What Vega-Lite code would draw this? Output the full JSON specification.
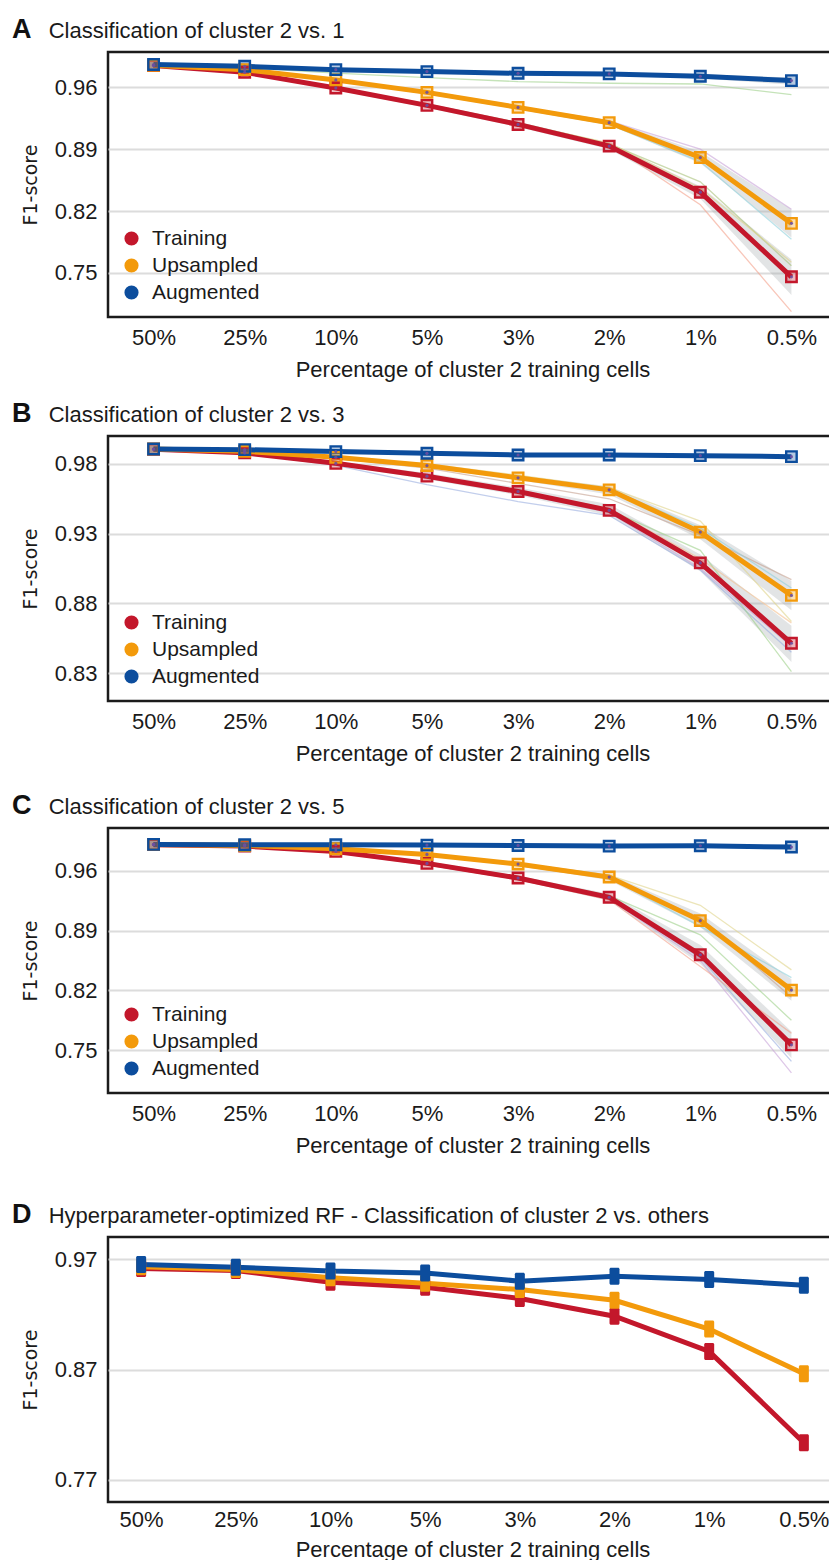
{
  "$schema": "https://vega.github.io/schema/vega-lite/v6.json",
  "background": "white",
  "padding": {"left": 10, "top": 14, "right": 0, "bottom": 0},
  "config": {
    "font": "Liberation Sans",
    "view": {"stroke": "#1b1b1b", "strokeWidth": 2.5},
    "axis": {"gridColor": "#dcdcdc", "gridWidth": 2, "domain": false, "ticks": false, "labelFontSize": 22, "labelColor": "#1a1a1a", "labelFont": "Liberation Sans", "titleFontSize": 22, "titleColor": "#1a1a1a", "titleFontWeight": "normal", "titleFont": "Liberation Sans"},
    "axisX": {"labelPadding": 10, "titlePadding": 11, "labelAngle": 0},
    "axisY": {"labelPadding": 11, "titlePadding": 14, "titleFont": "DejaVu Sans", "titleFontSize": 19},
    "legend": {"labelFont": "Liberation Sans", "labelColor": "#1a1a1a", "padding": 0},
    "title": {"anchor": "start", "frame": "group", "dx": -96, "fontSize": 27, "fontWeight": "bold", "font": "Liberation Sans", "color": "#111111", "subtitleFont": "Liberation Sans", "subtitleFontSize": 22, "subtitleColor": "#1a1a1a", "subtitlePadding": -23, "offset": 8}
  },
  "datasets": {
    "A_main": [
      {"series": "Training", "pct": "50%", "v": 0.9846}, {"series": "Training", "pct": "25%", "v": 0.977}, {"series": "Training", "pct": "10%", "v": 0.9593}, {"series": "Training", "pct": "5%", "v": 0.9396}, {"series": "Training", "pct": "3%", "v": 0.918}, {"series": "Training", "pct": "2%", "v": 0.8935}, {"series": "Training", "pct": "1%", "v": 0.8413}, {"series": "Training", "pct": "0.5%", "v": 0.7455},
      {"series": "Upsampled", "pct": "50%", "v": 0.985}, {"series": "Upsampled", "pct": "25%", "v": 0.98}, {"series": "Upsampled", "pct": "10%", "v": 0.9684}, {"series": "Upsampled", "pct": "5%", "v": 0.9543}, {"series": "Upsampled", "pct": "3%", "v": 0.9373}, {"series": "Upsampled", "pct": "2%", "v": 0.92}, {"series": "Upsampled", "pct": "1%", "v": 0.8806}, {"series": "Upsampled", "pct": "0.5%", "v": 0.806},
      {"series": "Augmented", "pct": "50%", "v": 0.9858}, {"series": "Augmented", "pct": "25%", "v": 0.9838}, {"series": "Augmented", "pct": "10%", "v": 0.98}, {"series": "Augmented", "pct": "5%", "v": 0.9778}, {"series": "Augmented", "pct": "3%", "v": 0.9759}, {"series": "Augmented", "pct": "2%", "v": 0.9752}, {"series": "Augmented", "pct": "1%", "v": 0.9725}, {"series": "Augmented", "pct": "0.5%", "v": 0.9676}
    ],
    "A_band": [
      {"series": "Training", "pct": "50%", "lo": 0.9838, "hi": 0.9854}, {"series": "Training", "pct": "25%", "lo": 0.9755, "hi": 0.9785}, {"series": "Training", "pct": "10%", "lo": 0.957, "hi": 0.9615}, {"series": "Training", "pct": "5%", "lo": 0.937, "hi": 0.942}, {"series": "Training", "pct": "3%", "lo": 0.915, "hi": 0.921}, {"series": "Training", "pct": "2%", "lo": 0.89, "hi": 0.897}, {"series": "Training", "pct": "1%", "lo": 0.834, "hi": 0.848}, {"series": "Training", "pct": "0.5%", "lo": 0.725, "hi": 0.765},
      {"series": "Upsampled", "pct": "50%", "lo": 0.9842, "hi": 0.9858}, {"series": "Upsampled", "pct": "25%", "lo": 0.979, "hi": 0.981}, {"series": "Upsampled", "pct": "10%", "lo": 0.967, "hi": 0.97}, {"series": "Upsampled", "pct": "5%", "lo": 0.952, "hi": 0.9565}, {"series": "Upsampled", "pct": "3%", "lo": 0.935, "hi": 0.9395}, {"series": "Upsampled", "pct": "2%", "lo": 0.9175, "hi": 0.9225}, {"series": "Upsampled", "pct": "1%", "lo": 0.874, "hi": 0.887}, {"series": "Upsampled", "pct": "0.5%", "lo": 0.79, "hi": 0.822},
      {"series": "Augmented", "pct": "50%", "lo": 0.985, "hi": 0.9866}, {"series": "Augmented", "pct": "25%", "lo": 0.983, "hi": 0.9846}, {"series": "Augmented", "pct": "10%", "lo": 0.979, "hi": 0.981}, {"series": "Augmented", "pct": "5%", "lo": 0.9765, "hi": 0.979}, {"series": "Augmented", "pct": "3%", "lo": 0.974, "hi": 0.9775}, {"series": "Augmented", "pct": "2%", "lo": 0.973, "hi": 0.977}, {"series": "Augmented", "pct": "1%", "lo": 0.97, "hi": 0.975}, {"series": "Augmented", "pct": "0.5%", "lo": 0.963, "hi": 0.971}
    ],
    "A_runs": [
      {"run": "g1", "pct": "50%", "v": 0.985}, {"run": "g1", "pct": "25%", "v": 0.982}, {"run": "g1", "pct": "10%", "v": 0.976}, {"run": "g1", "pct": "5%", "v": 0.971}, {"run": "g1", "pct": "3%", "v": 0.9665}, {"run": "g1", "pct": "2%", "v": 0.9646}, {"run": "g1", "pct": "1%", "v": 0.9638}, {"run": "g1", "pct": "0.5%", "v": 0.9517},
      {"run": "s1", "pct": "50%", "v": 0.985}, {"run": "s1", "pct": "25%", "v": 0.977}, {"run": "s1", "pct": "10%", "v": 0.959}, {"run": "s1", "pct": "5%", "v": 0.939}, {"run": "s1", "pct": "3%", "v": 0.918}, {"run": "s1", "pct": "2%", "v": 0.896}, {"run": "s1", "pct": "1%", "v": 0.827}, {"run": "s1", "pct": "0.5%", "v": 0.706},
      {"run": "c1", "pct": "50%", "v": 0.985}, {"run": "c1", "pct": "25%", "v": 0.98}, {"run": "c1", "pct": "10%", "v": 0.968}, {"run": "c1", "pct": "5%", "v": 0.953}, {"run": "c1", "pct": "3%", "v": 0.936}, {"run": "c1", "pct": "2%", "v": 0.918}, {"run": "c1", "pct": "1%", "v": 0.876}, {"run": "c1", "pct": "0.5%", "v": 0.788},
      {"run": "g2", "pct": "50%", "v": 0.985}, {"run": "g2", "pct": "25%", "v": 0.977}, {"run": "g2", "pct": "10%", "v": 0.96}, {"run": "g2", "pct": "5%", "v": 0.941}, {"run": "g2", "pct": "3%", "v": 0.92}, {"run": "g2", "pct": "2%", "v": 0.896}, {"run": "g2", "pct": "1%", "v": 0.853}, {"run": "g2", "pct": "0.5%", "v": 0.758},
      {"run": "p1", "pct": "50%", "v": 0.985}, {"run": "p1", "pct": "25%", "v": 0.98}, {"run": "p1", "pct": "10%", "v": 0.969}, {"run": "p1", "pct": "5%", "v": 0.955}, {"run": "p1", "pct": "3%", "v": 0.938}, {"run": "p1", "pct": "2%", "v": 0.922}, {"run": "p1", "pct": "1%", "v": 0.89}, {"run": "p1", "pct": "0.5%", "v": 0.822},
      {"run": "y1", "pct": "50%", "v": 0.985}, {"run": "y1", "pct": "25%", "v": 0.977}, {"run": "y1", "pct": "10%", "v": 0.96}, {"run": "y1", "pct": "5%", "v": 0.94}, {"run": "y1", "pct": "3%", "v": 0.919}, {"run": "y1", "pct": "2%", "v": 0.897}, {"run": "y1", "pct": "1%", "v": 0.846}, {"run": "y1", "pct": "0.5%", "v": 0.762}
    ],
    "B_main": [
      {"series": "Training", "pct": "50%", "v": 0.9905}, {"series": "Training", "pct": "25%", "v": 0.9879}, {"series": "Training", "pct": "10%", "v": 0.9804}, {"series": "Training", "pct": "5%", "v": 0.9712}, {"series": "Training", "pct": "3%", "v": 0.9602}, {"series": "Training", "pct": "2%", "v": 0.9467}, {"series": "Training", "pct": "1%", "v": 0.909}, {"series": "Training", "pct": "0.5%", "v": 0.8514},
      {"series": "Upsampled", "pct": "50%", "v": 0.9907}, {"series": "Upsampled", "pct": "25%", "v": 0.989}, {"series": "Upsampled", "pct": "10%", "v": 0.9847}, {"series": "Upsampled", "pct": "5%", "v": 0.9788}, {"series": "Upsampled", "pct": "3%", "v": 0.97}, {"series": "Upsampled", "pct": "2%", "v": 0.9614}, {"series": "Upsampled", "pct": "1%", "v": 0.9311}, {"series": "Upsampled", "pct": "0.5%", "v": 0.8857},
      {"series": "Augmented", "pct": "50%", "v": 0.9907}, {"series": "Augmented", "pct": "25%", "v": 0.9902}, {"series": "Augmented", "pct": "10%", "v": 0.9888}, {"series": "Augmented", "pct": "5%", "v": 0.9876}, {"series": "Augmented", "pct": "3%", "v": 0.9864}, {"series": "Augmented", "pct": "2%", "v": 0.9864}, {"series": "Augmented", "pct": "1%", "v": 0.9859}, {"series": "Augmented", "pct": "0.5%", "v": 0.9852}
    ],
    "B_band": [
      {"series": "Training", "pct": "50%", "lo": 0.9898, "hi": 0.9912}, {"series": "Training", "pct": "25%", "lo": 0.987, "hi": 0.9888}, {"series": "Training", "pct": "10%", "lo": 0.979, "hi": 0.9818}, {"series": "Training", "pct": "5%", "lo": 0.969, "hi": 0.9734}, {"series": "Training", "pct": "3%", "lo": 0.9575, "hi": 0.963}, {"series": "Training", "pct": "2%", "lo": 0.943, "hi": 0.951}, {"series": "Training", "pct": "1%", "lo": 0.903, "hi": 0.915}, {"series": "Training", "pct": "0.5%", "lo": 0.838, "hi": 0.864},
      {"series": "Upsampled", "pct": "50%", "lo": 0.99, "hi": 0.9914}, {"series": "Upsampled", "pct": "25%", "lo": 0.988, "hi": 0.99}, {"series": "Upsampled", "pct": "10%", "lo": 0.9835, "hi": 0.986}, {"series": "Upsampled", "pct": "5%", "lo": 0.9775, "hi": 0.98}, {"series": "Upsampled", "pct": "3%", "lo": 0.9685, "hi": 0.9715}, {"series": "Upsampled", "pct": "2%", "lo": 0.958, "hi": 0.964}, {"series": "Upsampled", "pct": "1%", "lo": 0.926, "hi": 0.936}, {"series": "Upsampled", "pct": "0.5%", "lo": 0.875, "hi": 0.896},
      {"series": "Augmented", "pct": "50%", "lo": 0.99, "hi": 0.9914}, {"series": "Augmented", "pct": "25%", "lo": 0.9895, "hi": 0.991}, {"series": "Augmented", "pct": "10%", "lo": 0.988, "hi": 0.9896}, {"series": "Augmented", "pct": "5%", "lo": 0.987, "hi": 0.9884}, {"series": "Augmented", "pct": "3%", "lo": 0.9855, "hi": 0.9873}, {"series": "Augmented", "pct": "2%", "lo": 0.9855, "hi": 0.9873}, {"series": "Augmented", "pct": "1%", "lo": 0.985, "hi": 0.987}, {"series": "Augmented", "pct": "0.5%", "lo": 0.984, "hi": 0.9864}
    ],
    "B_runs": [
      {"run": "b1", "pct": "50%", "v": 0.99}, {"run": "b1", "pct": "25%", "v": 0.9875}, {"run": "b1", "pct": "10%", "v": 0.979}, {"run": "b1", "pct": "5%", "v": 0.9652}, {"run": "b1", "pct": "3%", "v": 0.953}, {"run": "b1", "pct": "2%", "v": 0.943}, {"run": "b1", "pct": "1%", "v": 0.904}, {"run": "b1", "pct": "0.5%", "v": 0.845},
      {"run": "g1", "pct": "50%", "v": 0.99}, {"run": "g1", "pct": "25%", "v": 0.988}, {"run": "g1", "pct": "10%", "v": 0.981}, {"run": "g1", "pct": "5%", "v": 0.972}, {"run": "g1", "pct": "3%", "v": 0.961}, {"run": "g1", "pct": "2%", "v": 0.947}, {"run": "g1", "pct": "1%", "v": 0.918}, {"run": "g1", "pct": "0.5%", "v": 0.831},
      {"run": "y1", "pct": "50%", "v": 0.991}, {"run": "y1", "pct": "25%", "v": 0.989}, {"run": "y1", "pct": "10%", "v": 0.985}, {"run": "y1", "pct": "5%", "v": 0.98}, {"run": "y1", "pct": "3%", "v": 0.972}, {"run": "y1", "pct": "2%", "v": 0.963}, {"run": "y1", "pct": "1%", "v": 0.939}, {"run": "y1", "pct": "0.5%", "v": 0.867},
      {"run": "br", "pct": "50%", "v": 0.991}, {"run": "br", "pct": "25%", "v": 0.989}, {"run": "br", "pct": "10%", "v": 0.984}, {"run": "br", "pct": "5%", "v": 0.977}, {"run": "br", "pct": "3%", "v": 0.966}, {"run": "br", "pct": "2%", "v": 0.955}, {"run": "br", "pct": "1%", "v": 0.929}, {"run": "br", "pct": "0.5%", "v": 0.897},
      {"run": "c1", "pct": "50%", "v": 0.991}, {"run": "c1", "pct": "25%", "v": 0.989}, {"run": "c1", "pct": "10%", "v": 0.985}, {"run": "c1", "pct": "5%", "v": 0.979}, {"run": "c1", "pct": "3%", "v": 0.97}, {"run": "c1", "pct": "2%", "v": 0.962}, {"run": "c1", "pct": "1%", "v": 0.934}, {"run": "c1", "pct": "0.5%", "v": 0.891},
      {"run": "p1", "pct": "50%", "v": 0.99}, {"run": "p1", "pct": "25%", "v": 0.988}, {"run": "p1", "pct": "10%", "v": 0.98}, {"run": "p1", "pct": "5%", "v": 0.97}, {"run": "p1", "pct": "3%", "v": 0.959}, {"run": "p1", "pct": "2%", "v": 0.945}, {"run": "p1", "pct": "1%", "v": 0.905}, {"run": "p1", "pct": "0.5%", "v": 0.849},
      {"run": "o1", "pct": "50%", "v": 0.99}, {"run": "o1", "pct": "25%", "v": 0.988}, {"run": "o1", "pct": "10%", "v": 0.98}, {"run": "o1", "pct": "5%", "v": 0.971}, {"run": "o1", "pct": "3%", "v": 0.961}, {"run": "o1", "pct": "2%", "v": 0.948}, {"run": "o1", "pct": "1%", "v": 0.912}, {"run": "o1", "pct": "0.5%", "v": 0.866}
    ],
    "C_main": [
      {"series": "Training", "pct": "50%", "v": 0.9905}, {"series": "Training", "pct": "25%", "v": 0.9888}, {"series": "Training", "pct": "10%", "v": 0.9826}, {"series": "Training", "pct": "5%", "v": 0.9686}, {"series": "Training", "pct": "3%", "v": 0.9515}, {"series": "Training", "pct": "2%", "v": 0.929}, {"series": "Training", "pct": "1%", "v": 0.8617}, {"series": "Training", "pct": "0.5%", "v": 0.7563},
      {"series": "Upsampled", "pct": "50%", "v": 0.9908}, {"series": "Upsampled", "pct": "25%", "v": 0.9896}, {"series": "Upsampled", "pct": "10%", "v": 0.9857}, {"series": "Upsampled", "pct": "5%", "v": 0.9791}, {"series": "Upsampled", "pct": "3%", "v": 0.9678}, {"series": "Upsampled", "pct": "2%", "v": 0.9526}, {"series": "Upsampled", "pct": "1%", "v": 0.9017}, {"series": "Upsampled", "pct": "0.5%", "v": 0.8204},
      {"series": "Augmented", "pct": "50%", "v": 0.9908}, {"series": "Augmented", "pct": "25%", "v": 0.9904}, {"series": "Augmented", "pct": "10%", "v": 0.9904}, {"series": "Augmented", "pct": "5%", "v": 0.99}, {"series": "Augmented", "pct": "3%", "v": 0.9896}, {"series": "Augmented", "pct": "2%", "v": 0.9888}, {"series": "Augmented", "pct": "1%", "v": 0.9892}, {"series": "Augmented", "pct": "0.5%", "v": 0.9877}
    ],
    "C_band": [
      {"series": "Training", "pct": "50%", "lo": 0.99, "hi": 0.991}, {"series": "Training", "pct": "25%", "lo": 0.988, "hi": 0.9896}, {"series": "Training", "pct": "10%", "lo": 0.981, "hi": 0.984}, {"series": "Training", "pct": "5%", "lo": 0.966, "hi": 0.971}, {"series": "Training", "pct": "3%", "lo": 0.949, "hi": 0.954}, {"series": "Training", "pct": "2%", "lo": 0.925, "hi": 0.933}, {"series": "Training", "pct": "1%", "lo": 0.851, "hi": 0.873}, {"series": "Training", "pct": "0.5%", "lo": 0.741, "hi": 0.772},
      {"series": "Upsampled", "pct": "50%", "lo": 0.9902, "hi": 0.9914}, {"series": "Upsampled", "pct": "25%", "lo": 0.989, "hi": 0.9902}, {"series": "Upsampled", "pct": "10%", "lo": 0.985, "hi": 0.9865}, {"series": "Upsampled", "pct": "5%", "lo": 0.978, "hi": 0.9805}, {"series": "Upsampled", "pct": "3%", "lo": 0.966, "hi": 0.9695}, {"series": "Upsampled", "pct": "2%", "lo": 0.949, "hi": 0.956}, {"series": "Upsampled", "pct": "1%", "lo": 0.894, "hi": 0.91}, {"series": "Upsampled", "pct": "0.5%", "lo": 0.808, "hi": 0.833}
    ],
    "C_runs": [
      {"run": "y1", "pct": "50%", "v": 0.991}, {"run": "y1", "pct": "25%", "v": 0.99}, {"run": "y1", "pct": "10%", "v": 0.986}, {"run": "y1", "pct": "5%", "v": 0.98}, {"run": "y1", "pct": "3%", "v": 0.969}, {"run": "y1", "pct": "2%", "v": 0.955}, {"run": "y1", "pct": "1%", "v": 0.9196}, {"run": "y1", "pct": "0.5%", "v": 0.844},
      {"run": "p1", "pct": "50%", "v": 0.99}, {"run": "p1", "pct": "25%", "v": 0.988}, {"run": "p1", "pct": "10%", "v": 0.982}, {"run": "p1", "pct": "5%", "v": 0.967}, {"run": "p1", "pct": "3%", "v": 0.95}, {"run": "p1", "pct": "2%", "v": 0.927}, {"run": "p1", "pct": "1%", "v": 0.855}, {"run": "p1", "pct": "0.5%", "v": 0.7236},
      {"run": "b1", "pct": "50%", "v": 0.99}, {"run": "b1", "pct": "25%", "v": 0.988}, {"run": "b1", "pct": "10%", "v": 0.982}, {"run": "b1", "pct": "5%", "v": 0.968}, {"run": "b1", "pct": "3%", "v": 0.951}, {"run": "b1", "pct": "2%", "v": 0.928}, {"run": "b1", "pct": "1%", "v": 0.858}, {"run": "b1", "pct": "0.5%", "v": 0.737},
      {"run": "g1", "pct": "50%", "v": 0.99}, {"run": "g1", "pct": "25%", "v": 0.989}, {"run": "g1", "pct": "10%", "v": 0.983}, {"run": "g1", "pct": "5%", "v": 0.97}, {"run": "g1", "pct": "3%", "v": 0.953}, {"run": "g1", "pct": "2%", "v": 0.931}, {"run": "g1", "pct": "1%", "v": 0.885}, {"run": "g1", "pct": "0.5%", "v": 0.785},
      {"run": "s1", "pct": "50%", "v": 0.99}, {"run": "s1", "pct": "25%", "v": 0.988}, {"run": "s1", "pct": "10%", "v": 0.981}, {"run": "s1", "pct": "5%", "v": 0.967}, {"run": "s1", "pct": "3%", "v": 0.95}, {"run": "s1", "pct": "2%", "v": 0.926}, {"run": "s1", "pct": "1%", "v": 0.848}, {"run": "s1", "pct": "0.5%", "v": 0.77},
      {"run": "br", "pct": "50%", "v": 0.991}, {"run": "br", "pct": "25%", "v": 0.989}, {"run": "br", "pct": "10%", "v": 0.985}, {"run": "br", "pct": "5%", "v": 0.978}, {"run": "br", "pct": "3%", "v": 0.966}, {"run": "br", "pct": "2%", "v": 0.951}, {"run": "br", "pct": "1%", "v": 0.905}, {"run": "br", "pct": "0.5%", "v": 0.812},
      {"run": "c1", "pct": "50%", "v": 0.991}, {"run": "c1", "pct": "25%", "v": 0.989}, {"run": "c1", "pct": "10%", "v": 0.986}, {"run": "c1", "pct": "5%", "v": 0.979}, {"run": "c1", "pct": "3%", "v": 0.967}, {"run": "c1", "pct": "2%", "v": 0.952}, {"run": "c1", "pct": "1%", "v": 0.895}, {"run": "c1", "pct": "0.5%", "v": 0.835}
    ],
    "D_main": [
      {"series": "Training", "pct": "50%", "v": 0.9615}, {"series": "Training", "pct": "25%", "v": 0.9597}, {"series": "Training", "pct": "10%", "v": 0.9491}, {"series": "Training", "pct": "5%", "v": 0.9445}, {"series": "Training", "pct": "3%", "v": 0.9343}, {"series": "Training", "pct": "2%", "v": 0.9182}, {"series": "Training", "pct": "1%", "v": 0.8864}, {"series": "Training", "pct": "0.5%", "v": 0.8036},
      {"series": "Upsampled", "pct": "50%", "v": 0.963}, {"series": "Upsampled", "pct": "25%", "v": 0.9606}, {"series": "Upsampled", "pct": "10%", "v": 0.953}, {"series": "Upsampled", "pct": "5%", "v": 0.9482}, {"series": "Upsampled", "pct": "3%", "v": 0.9424}, {"series": "Upsampled", "pct": "2%", "v": 0.9327}, {"series": "Upsampled", "pct": "1%", "v": 0.9066}, {"series": "Upsampled", "pct": "0.5%", "v": 0.8661},
      {"series": "Augmented", "pct": "50%", "v": 0.9652}, {"series": "Augmented", "pct": "25%", "v": 0.9627}, {"series": "Augmented", "pct": "10%", "v": 0.9591}, {"series": "Augmented", "pct": "5%", "v": 0.9575}, {"series": "Augmented", "pct": "3%", "v": 0.95}, {"series": "Augmented", "pct": "2%", "v": 0.9545}, {"series": "Augmented", "pct": "1%", "v": 0.9515}, {"series": "Augmented", "pct": "0.5%", "v": 0.9464}
    ]
  },
  "resolve": {"scale": {"color": "independent", "stroke": "independent", "x": "independent", "y": "independent"}, "legend": {"color": "independent", "stroke": "independent"}},
  "spacing": 24,
  "vconcat": [
    {
      "spacing": 16,
      "resolve": {"scale": {"color": "independent", "stroke": "independent", "x": "independent", "y": "independent"}, "legend": {"color": "independent", "stroke": "independent"}},
      "vconcat": [
        {
          "width": 729, "height": 265,
          "title": {"text": "A", "subtitle": "\u200b\u00a0\u00a0\u00a0\u00a0\u00a0\u00a0Classification of cluster 2 vs. 1"},
          "encoding": {"x": {"field": "pct", "type": "ordinal", "sort": ["50%", "25%", "10%", "5%", "3%", "2%", "1%", "0.5%"], "scale": {"type": "point", "padding": 0.5}, "axis": {"title": "Percentage of cluster 2 training cells"}}},
          "layer": [
            {"data": {"name": "A_band"}, "mark": {"type": "area", "color": "#9ea4aa", "opacity": 0.3}, "encoding": {"y": {"field": "lo", "type": "quantitative", "scale": {"domain": [0.70, 1.0], "nice": false, "zero": false}, "axis": {"title": "F1-score", "values": [0.75, 0.82, 0.89, 0.96], "format": ".2f"}}, "y2": {"field": "hi"}, "detail": {"field": "series"}}},
            {"data": {"name": "A_runs"}, "mark": {"type": "line", "strokeWidth": 1.3, "opacity": 0.6}, "encoding": {"y": {"field": "v", "type": "quantitative"}, "stroke": {"field": "run", "type": "nominal", "scale": {"domain": ["g1", "g2", "s1", "c1", "p1", "y1", "b1", "br", "o1", "Training", "Upsampled", "Augmented"], "range": ["#9fd08a", "#a9c27a", "#f4a08a", "#8fd0dc", "#c8a4d8", "#e0d48a", "#9aaee0", "#c4a090", "#f4c090", "#c3172b", "#f39a0b", "#0c4d9d"]}, "legend": null}}},
            {"data": {"name": "A_main"}, "mark": {"type": "line", "strokeWidth": 5}, "encoding": {"y": {"field": "v", "type": "quantitative"}, "stroke": {"field": "series", "type": "nominal", "legend": null}}},
            {"data": {"name": "A_main"}, "mark": {"type": "point", "shape": "square", "filled": true, "size": 110, "fillOpacity": 0.3, "strokeWidth": 0}, "encoding": {"y": {"field": "v", "type": "quantitative"}, "color": {"field": "series", "type": "nominal", "scale": {"domain": ["Training", "Upsampled", "Augmented"], "range": ["#c3172b", "#f39a0b", "#0c4d9d"]}, "legend": {"orient": "none", "legendX": 13, "legendY": 176, "title": null, "symbolType": "circle", "symbolSize": 200, "labelFontSize": 21, "rowPadding": 5, "labelOffset": 10, "symbolOpacity": 1, "symbolStrokeWidth": 0, "encode": {"symbols": {"update": {"fillOpacity": {"value": 1}}}}}}}},
            {"data": {"name": "A_main"}, "mark": {"type": "point", "shape": "square", "filled": false, "size": 110, "strokeWidth": 2.4, "opacity": 1}, "encoding": {"y": {"field": "v", "type": "quantitative"}, "stroke": {"field": "series", "type": "nominal", "legend": null}}},
            {"data": {"name": "A_main"}, "mark": {"type": "point", "filled": true, "size": 10, "color": "#6b4fa0", "opacity": 0.9}, "encoding": {"y": {"field": "v", "type": "quantitative"}}}
          ]
        },
        {
          "width": 729, "height": 265,
          "title": {"text": "B", "subtitle": "\u200b\u00a0\u00a0\u00a0\u00a0\u00a0\u00a0Classification of cluster 2 vs. 3"},
          "encoding": {"x": {"field": "pct", "type": "ordinal", "sort": ["50%", "25%", "10%", "5%", "3%", "2%", "1%", "0.5%"], "scale": {"type": "point", "padding": 0.5}, "axis": {"title": "Percentage of cluster 2 training cells"}}},
          "layer": [
            {"data": {"name": "B_band"}, "mark": {"type": "area", "color": "#9ea4aa", "opacity": 0.3}, "encoding": {"y": {"field": "lo", "type": "quantitative", "scale": {"domain": [0.81, 1.0], "nice": false, "zero": false}, "axis": {"title": "F1-score", "values": [0.83, 0.88, 0.93, 0.98], "format": ".2f"}}, "y2": {"field": "hi"}, "detail": {"field": "series"}}},
            {"data": {"name": "B_runs"}, "mark": {"type": "line", "strokeWidth": 1.3, "opacity": 0.6}, "encoding": {"y": {"field": "v", "type": "quantitative"}, "stroke": {"field": "run", "type": "nominal", "scale": {"domain": ["g1", "g2", "s1", "c1", "p1", "y1", "b1", "br", "o1", "Training", "Upsampled", "Augmented"], "range": ["#9fd08a", "#a9c27a", "#f4a08a", "#8fd0dc", "#c8a4d8", "#e0d48a", "#9aaee0", "#c4a090", "#f4c090", "#c3172b", "#f39a0b", "#0c4d9d"]}, "legend": null}}},
            {"data": {"name": "B_main"}, "mark": {"type": "line", "strokeWidth": 5}, "encoding": {"y": {"field": "v", "type": "quantitative"}, "stroke": {"field": "series", "type": "nominal", "legend": null}}},
            {"data": {"name": "B_main"}, "mark": {"type": "point", "shape": "square", "filled": true, "size": 110, "fillOpacity": 0.3, "strokeWidth": 0}, "encoding": {"y": {"field": "v", "type": "quantitative"}, "color": {"field": "series", "type": "nominal", "scale": {"domain": ["Training", "Upsampled", "Augmented"], "range": ["#c3172b", "#f39a0b", "#0c4d9d"]}, "legend": {"orient": "none", "legendX": 13, "legendY": 176, "title": null, "symbolType": "circle", "symbolSize": 200, "labelFontSize": 21, "rowPadding": 5, "labelOffset": 10, "symbolOpacity": 1, "symbolStrokeWidth": 0, "encode": {"symbols": {"update": {"fillOpacity": {"value": 1}}}}}}}},
            {"data": {"name": "B_main"}, "mark": {"type": "point", "shape": "square", "filled": false, "size": 110, "strokeWidth": 2.4, "opacity": 1}, "encoding": {"y": {"field": "v", "type": "quantitative"}, "stroke": {"field": "series", "type": "nominal", "legend": null}}},
            {"data": {"name": "B_main"}, "mark": {"type": "point", "filled": true, "size": 10, "color": "#6b4fa0", "opacity": 0.9}, "encoding": {"y": {"field": "v", "type": "quantitative"}}}
          ]
        }
      ]
    },
    {
      "spacing": 41,
      "resolve": {"scale": {"color": "independent", "stroke": "independent", "x": "independent", "y": "independent"}, "legend": {"color": "independent", "stroke": "independent"}},
      "vconcat": [
        {
          "width": 729, "height": 265,
          "title": {"text": "C", "subtitle": "\u200b\u00a0\u00a0\u00a0\u00a0\u00a0\u00a0Classification of cluster 2 vs. 5"},
          "encoding": {"x": {"field": "pct", "type": "ordinal", "sort": ["50%", "25%", "10%", "5%", "3%", "2%", "1%", "0.5%"], "scale": {"type": "point", "padding": 0.5}, "axis": {"title": "Percentage of cluster 2 training cells"}}},
          "layer": [
            {"data": {"name": "C_band"}, "mark": {"type": "area", "color": "#9ea4aa", "opacity": 0.3}, "encoding": {"y": {"field": "lo", "type": "quantitative", "scale": {"domain": [0.70, 1.01], "nice": false, "zero": false}, "axis": {"title": "F1-score", "values": [0.75, 0.82, 0.89, 0.96], "format": ".2f"}}, "y2": {"field": "hi"}, "detail": {"field": "series"}}},
            {"data": {"name": "C_runs"}, "mark": {"type": "line", "strokeWidth": 1.3, "opacity": 0.6}, "encoding": {"y": {"field": "v", "type": "quantitative"}, "stroke": {"field": "run", "type": "nominal", "scale": {"domain": ["g1", "g2", "s1", "c1", "p1", "y1", "b1", "br", "o1", "Training", "Upsampled", "Augmented"], "range": ["#9fd08a", "#a9c27a", "#f4a08a", "#8fd0dc", "#c8a4d8", "#e0d48a", "#9aaee0", "#c4a090", "#f4c090", "#c3172b", "#f39a0b", "#0c4d9d"]}, "legend": null}}},
            {"data": {"name": "C_main"}, "mark": {"type": "line", "strokeWidth": 5}, "encoding": {"y": {"field": "v", "type": "quantitative"}, "stroke": {"field": "series", "type": "nominal", "legend": null}}},
            {"data": {"name": "C_main"}, "mark": {"type": "point", "shape": "square", "filled": true, "size": 110, "fillOpacity": 0.3, "strokeWidth": 0}, "encoding": {"y": {"field": "v", "type": "quantitative"}, "color": {"field": "series", "type": "nominal", "scale": {"domain": ["Training", "Upsampled", "Augmented"], "range": ["#c3172b", "#f39a0b", "#0c4d9d"]}, "legend": {"orient": "none", "legendX": 13, "legendY": 176, "title": null, "symbolType": "circle", "symbolSize": 200, "labelFontSize": 21, "rowPadding": 5, "labelOffset": 10, "symbolOpacity": 1, "symbolStrokeWidth": 0, "encode": {"symbols": {"update": {"fillOpacity": {"value": 1}}}}}}}},
            {"data": {"name": "C_main"}, "mark": {"type": "point", "shape": "square", "filled": false, "size": 110, "strokeWidth": 2.4, "opacity": 1}, "encoding": {"y": {"field": "v", "type": "quantitative"}, "stroke": {"field": "series", "type": "nominal", "legend": null}}},
            {"data": {"name": "C_main"}, "mark": {"type": "point", "filled": true, "size": 10, "color": "#6b4fa0", "opacity": 0.9}, "encoding": {"y": {"field": "v", "type": "quantitative"}}}
          ]
        },
        {
          "width": 729, "height": 265,
          "title": {"text": "D", "subtitle": "\u200b\u00a0\u00a0\u00a0\u00a0\u00a0\u00a0Hyperparameter-optimized RF - Classification of cluster 2 vs. others"},
          "data": {"name": "D_main"},
          "encoding": {"x": {"field": "pct", "type": "ordinal", "sort": ["50%", "25%", "10%", "5%", "3%", "2%", "1%", "0.5%"], "scale": {"type": "point", "padding": 0.35}, "axis": {"title": "Percentage of cluster 2 training cells", "labelPadding": 7, "titlePadding": 9}},
            "y": {"field": "v", "type": "quantitative", "scale": {"domain": [0.75, 0.99], "nice": false, "zero": false}, "axis": {"title": "F1-score", "values": [0.77, 0.87, 0.97], "format": ".2f"}},
            "color": {"field": "series", "type": "nominal", "scale": {"domain": ["Training", "Upsampled", "Augmented"], "range": ["#c3172b", "#f39a0b", "#0c4d9d"]}, "legend": null}},
          "layer": [
            {"mark": {"type": "line", "strokeWidth": 5}},
            {"mark": {"type": "tick", "orient": "vertical", "thickness": 10, "size": 17, "opacity": 1, "cornerRadius": 1.5}}
          ]
        }
      ]
    }
  ]
}
